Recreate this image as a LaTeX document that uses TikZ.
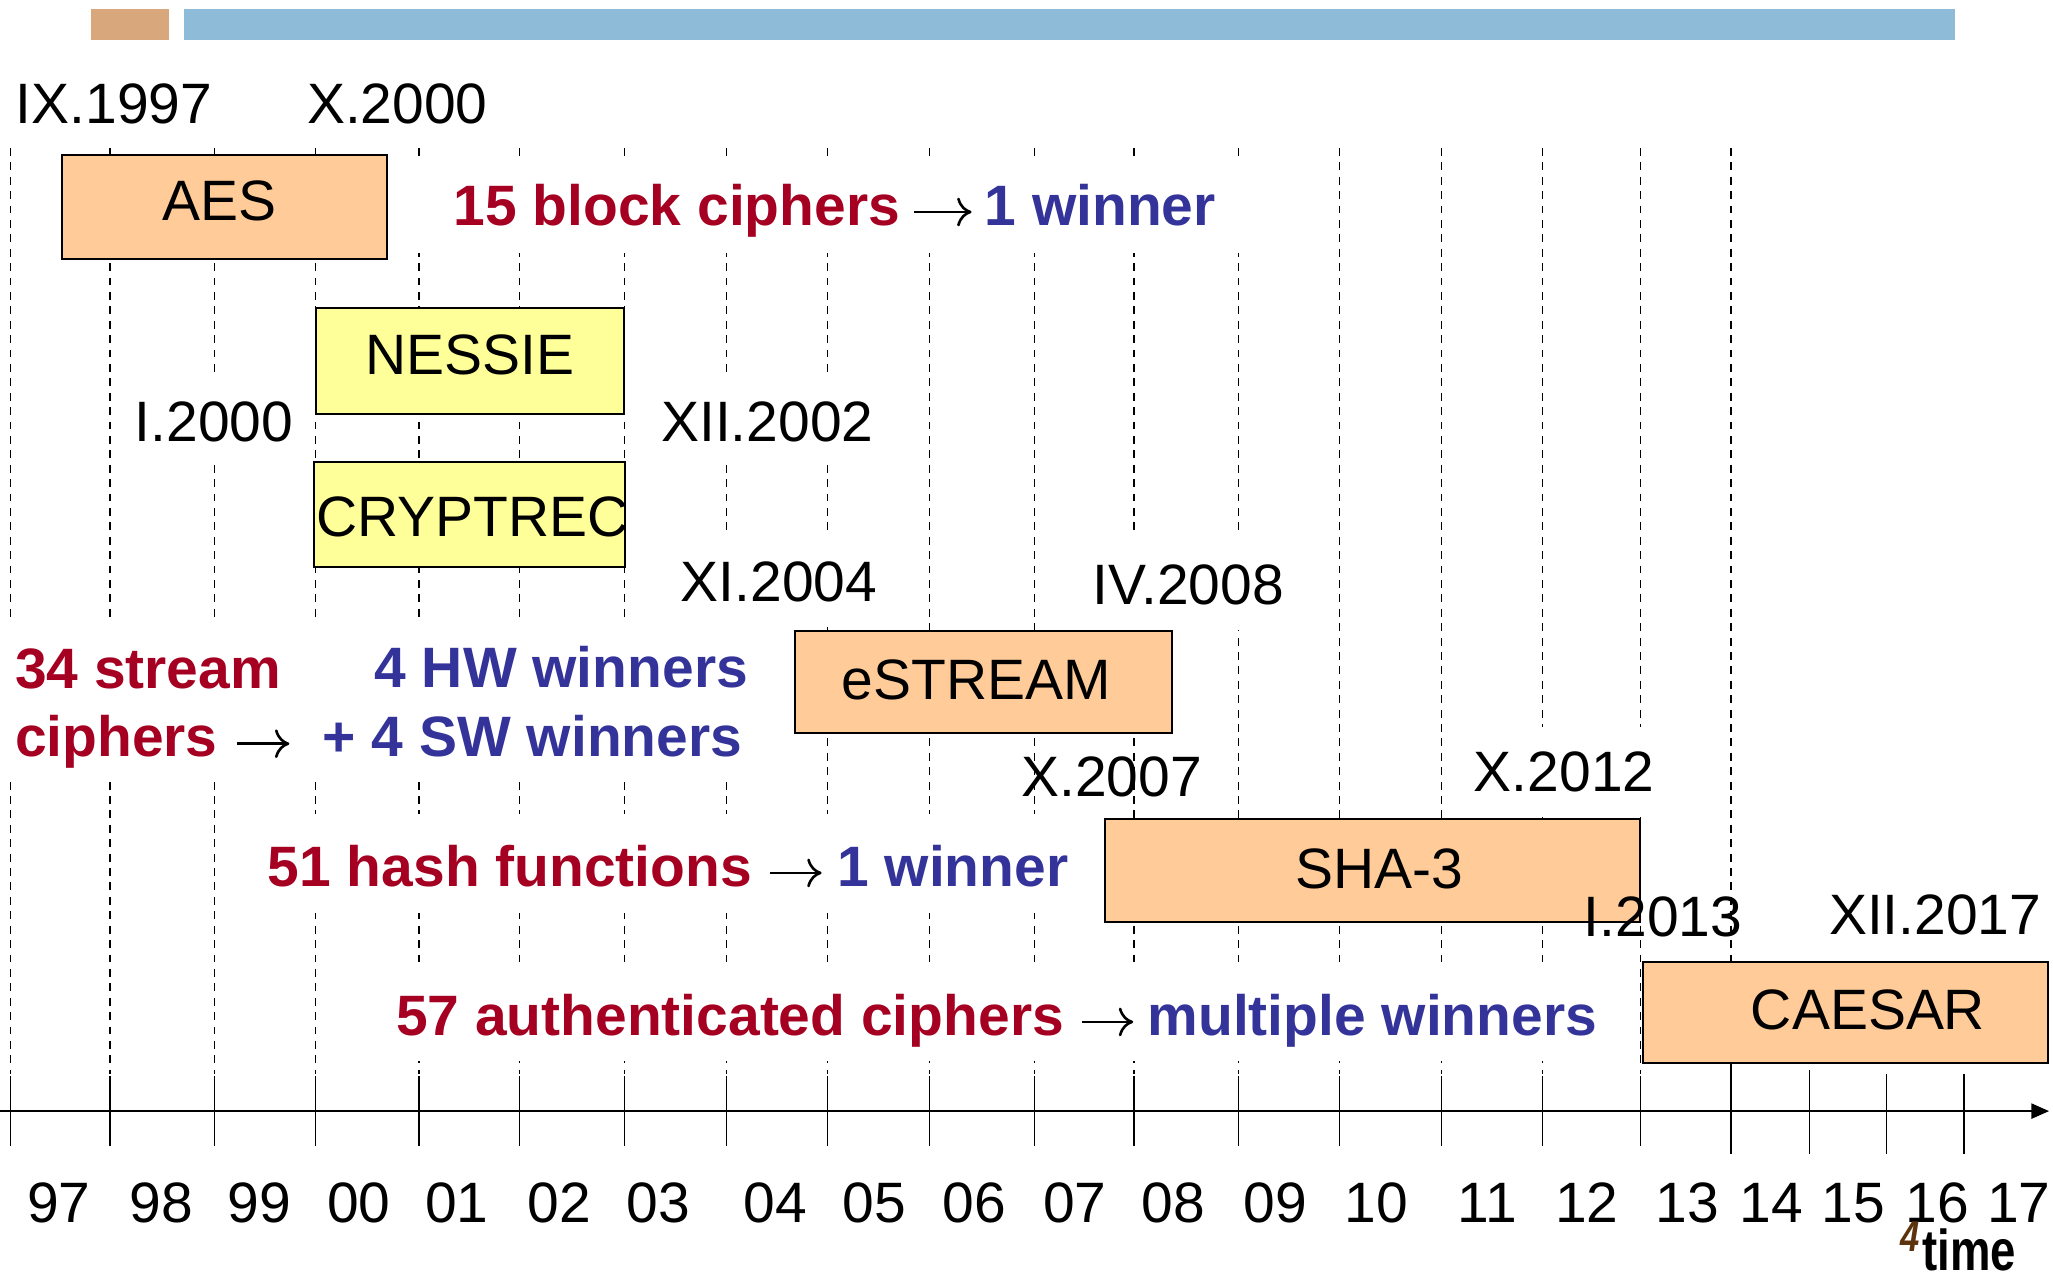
\documentclass[tikz,border=0pt]{standalone}
\usepackage{fontspec}
\setmainfont{Liberation Sans}
\usetikzlibrary{arrows.meta}

\definecolor{peach}{HTML}{FFCC99}
\definecolor{paleyellow}{HTML}{FFFF99}
\definecolor{barorange}{HTML}{D8A77B}
\definecolor{barblue}{HTML}{8DBBD8}
\definecolor{hlred}{HTML}{A50021}
\definecolor{hlblue}{HTML}{333399}
\definecolor{pagebrown}{HTML}{5C330D}

\begin{document}
\begin{tikzpicture}[x=1pt,y=-1pt,
  txt/.style={inner sep=0pt, outer sep=0pt, font=\fontsize{43.5}{52}\selectfont},
  boldtxt/.style={txt, font=\fontsize{43.5}{52}\selectfont\bfseries},
  datelabel/.style={txt, anchor=base},
  lead/.style={boldtxt, anchor=base west},
  subm/.style={lead, text=hlred},
  outc/.style={lead, text=hlblue},
  yieldarrow/.style={line width=2pt, -{To[length=11pt,width=22pt]}},
  gridline/.style={line width=1pt, dash pattern=on 6pt off 5pt},
  tickline/.style={line width=1pt},
  mask/.style={fill=white},
  phasebox/.style={draw=black, line width=1.5pt, inner sep=0pt, outer sep=0pt},
  peachbox/.style={phasebox, fill=peach},
  yellowbox/.style={phasebox, fill=paleyellow},
  axisline/.style={line width=1.5pt, -{Triangle[length=13.5pt,width=11.5pt]}}
]
\useasboundingbox (0,0) rectangle (1568,972);

% era bars along the top
\fill[barorange] (69.7,6.9) rectangle (129.2,30.5);
\fill[barblue] (140.4,6.9) rectangle (1493.5,30.5);

% dashed year guides
\foreach \gx in {8,84,164,241,320,397,477,555,632,710,790,866,946,1023,1101,1178,1253}
  \draw[gridline] (\gx,113) -- (\gx,820);
\draw[gridline] (1322,113) -- (1322,734);

% white backgrounds behind the labels
\fill[mask] (300,120) rectangle (962,193);
\fill[mask] (98,288) rectangle (230,355);
\fill[mask] (495,288) rectangle (680,355);
\fill[mask] (510,410) rectangle (680,479);
\fill[mask] (825,405) rectangle (990,481);
\fill[mask] (1115,555) rectangle (1268,624);
\fill[mask] (0,473) rectangle (590,597);
\fill[mask] (195,622) rectangle (830,697);
\fill[mask] (290,737) rectangle (1235,810);

% competitions
\node[peachbox, minimum width=247.6pt, minimum height=79.4pt] (aes) at (171.5,158.1) {};
\node[yellowbox, minimum width=235.5pt, minimum height=81pt] (nessie) at (358.85,276) {};
\node[yellowbox, minimum width=237.2pt, minimum height=80.7pt] (cryptrec) at (358.4,392.95) {};
\node[peachbox, minimum width=287.8pt, minimum height=78pt] (estream) at (751.1,521) {};
\node[peachbox, minimum width=408.3pt, minimum height=79.1pt] (sha3) at (1048.45,664.85) {};
\node[peachbox, minimum width=309.4pt, minimum height=77.6pt] (caesar) at (1409.3,773.3) {};

\node[datelabel] (aes-t) at (168,168.5) {AES};
\node[datelabel] (nessie-t) at (358.8,286.4) {NESSIE};
\node[datelabel] (cryptrec-t) at (361,409.4) {CRYPTREC};
\node[datelabel] (estream-t) at (745.5,534) {eSTREAM};
\node[datelabel] (sha3-t) at (1053.5,678.5) {SHA-3};
\node[datelabel] (caesar-t) at (1426.7,786.2) {CAESAR};

% start and end dates
\node[datelabel] (d-ix1997) at (87,94.7) {IX.1997};
\node[datelabel] (d-x2000) at (303.5,94.7) {X.2000};
\node[datelabel] (d-i2000) at (163.4,337.3) {I.2000};
\node[datelabel] (d-xii2002) at (586,337.3) {XII.2002};
\node[datelabel] (d-xi2004) at (595,459.5) {XI.2004};
\node[datelabel] (d-iv2008) at (907.6,462) {IV.2008};
\node[datelabel] (d-x2007) at (849,608.5) {X.2007};
\node[datelabel] (d-x2012) at (1194.6,604.7) {X.2012};
\node[datelabel] (d-i2013) at (1270,715.4) {I.2013};
\node[datelabel] (d-xii2017) at (1478,713.4) {XII.2017};

% submissions and outcomes
\node[subm] (block-in) at (346.5,171.9) {15 block ciphers};
\node[outc] (block-out) at (752,171.9) {1 winner};
\draw[yieldarrow] ([xshift=11pt,yshift=10pt]block-in.base east) -- ([xshift=-10pt,yshift=10pt]block-out.base west);

\node[subm] (stream-in1) at (11.5,526) {34 stream};
\node[subm] (stream-in2) at (11.5,578) {ciphers};
\coordinate (stream-tip) at (221,568);
\draw[yieldarrow] ([xshift=15pt,yshift=10pt]stream-in2.base east) -- (stream-tip);
\node[outc] (stream-hw) at (286,524.7) {4 HW winners};
\node[outc] (stream-sw) at (246.5,577.9) {+ 4 SW winners};

\node[subm] (hash-in) at (204.5,676.7) {51 hash functions};
\node[outc] (hash-out) at (639.5,676.7) {1 winner};
\draw[yieldarrow] ([xshift=14pt,yshift=10pt]hash-in.base east) -- ([xshift=-12pt,yshift=10pt]hash-out.base west);

\node[subm] (aead-in) at (302.5,790.5) {57 authenticated ciphers};
\node[outc] (aead-out) at (876.5,790.5) {multiple winners};
\draw[yieldarrow] ([xshift=14pt,yshift=10pt]aead-in.base east) -- ([xshift=-11pt,yshift=10pt]aead-out.base west);

% time axis
\coordinate (axis-start) at (0,848.6);
\coordinate (axis-end) at (1565,848.6);
\draw[axisline] (axis-start) -- (axis-end);
\foreach \tx in {8,84,164,241,320,397,477,555,632,710,790,866,946,1023,1101,1178,1253}
  \draw[tickline] (\tx,822) -- (\tx,875);
\draw[tickline] (1322,813) -- (1322,881);
\draw[tickline] (1382,817) -- (1382,881);
\draw[tickline] (1441,820) -- (1441,881);
\draw[tickline] (1500,820) -- (1500,881);

\foreach \lab/\cx in {97/45,98/123,99/198,00/274,01/349,02/427,03/503,04/592,05/668,06/744,07/821,08/896,09/974,10/1051,11/1136,12/1212,13/1288.7,14/1353,15/1415.7,16/1479.5,17/1542}
  \node[datelabel] (yr-\lab) at (\cx,934) {\lab};

\node[inner sep=0pt, anchor=base west, text=pagebrown,
  font=\fontsize{33}{36}\selectfont\bfseries\itshape] (pageno) at (1451,956) {\scalebox{0.8}[1]{4}};
\node[inner sep=0pt, anchor=base west,
  font=\fontsize{44}{48}\selectfont\bfseries] (timelabel) at (1468,970) {\scalebox{0.79}[1]{time}};
\end{tikzpicture}
\end{document}
